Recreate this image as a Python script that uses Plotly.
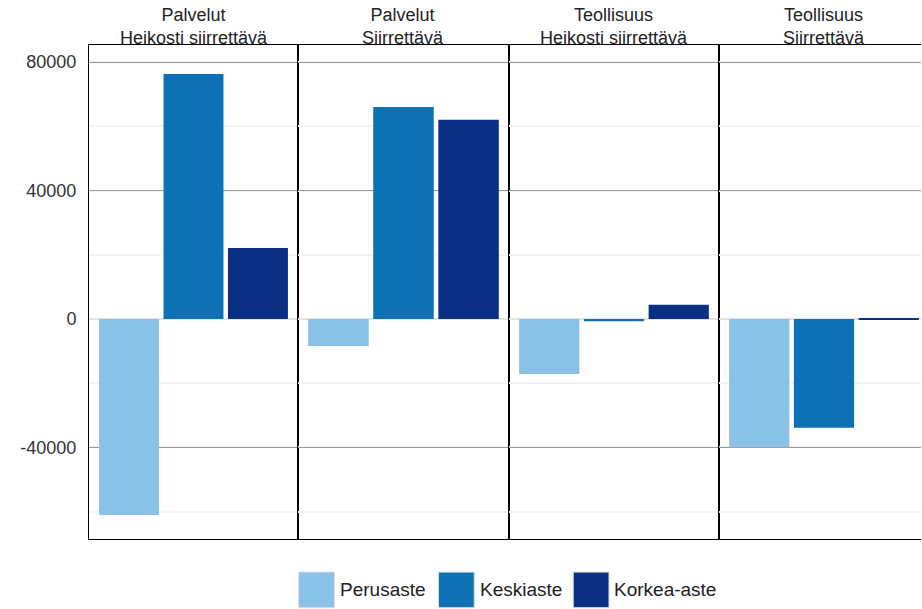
import plotly.graph_objects as go
from plotly.subplots import make_subplots

panels = ["Palvelut<br>Heikosti siirrettävä", "Palvelut<br>Siirrettävä",
          "Teollisuus<br>Heikosti siirrettävä", "Teollisuus<br>Siirrettävä"]
series_names = ["Perusaste", "Keskiaste", "Korkea-aste"]
perusaste = [-61000, -8400, -17100, -39900]
keskiaste = [76300, 66000, -700, -33900]
korkea_aste = [22100, 62000, 4400, -60]
colors = ["#89c2e6", "#0c72b4", "#0b3083"]
y_ticks = [80000, 40000, 0, -40000]
y_tick_text = ["80000", "40000", "0", "-40000"]

values = [perusaste, keskiaste, korkea_aste]
FONT = "Liberation Sans, Arial, sans-serif"

fig = make_subplots(rows=1, cols=4, shared_yaxes=True, horizontal_spacing=0,
                    subplot_titles=panels)

# panel edges in paper fractions (the last panel runs past the right edge)
edges = [0.0, 0.2512, 0.5048, 0.7572, 1.0]
full_w = 0.2524

for i in range(4):
    for s, name in enumerate(series_names):
        fig.add_trace(go.Bar(x=[panels[i]], y=[values[s][i]], name=name,
                             marker=dict(color=colors[s], line=dict(width=0)),
                             showlegend=False, hoverinfo="y"),
                      row=1, col=i + 1)
    dom = [edges[i], edges[i + 1]]
    xr = [-0.5, -0.5 + (dom[1] - dom[0]) / full_w] if i == 3 else [-0.5, 0.5]
    fig.update_xaxes(domain=dom, range=xr, showticklabels=False, showline=True,
                     linecolor="black", linewidth=1, mirror=True, showgrid=False,
                     ticks="", row=1, col=i + 1)
    fig.update_yaxes(range=[-68500, 85300], tickvals=y_ticks, ticktext=y_tick_text,
                     showline=True, linecolor="black", linewidth=1,
                     mirror=(i < 3),
                     showgrid=True, gridcolor="#9a9a9a", gridwidth=1,
                     zeroline=True, zerolinecolor="#e3e3e3", zerolinewidth=2,
                     minor=dict(dtick=20000, tick0=0, showgrid=True,
                                gridcolor="#f3f3f3", gridwidth=1.5, ticks=""),
                     ticks="", row=1, col=i + 1)

fig.update_yaxes(showticklabels=True, tickfont=dict(size=18, color="#333333", family=FONT),
                 ticklabelstandoff=8, row=1, col=1)

fig.update_annotations(font=dict(size=18, color="#222222", family=FONT), yshift=-5)
for i, ann in enumerate(fig.layout.annotations):
    ann.x = edges[i] + full_w / 2

# custom legend (large swatches as in the reference)
leg_x = [0.252, 0.420, 0.582]
for s, name in enumerate(series_names):
    x0 = leg_x[s]
    fig.add_shape(type="rect", xref="paper", yref="paper",
                  x0=x0, x1=x0 + 0.043, y0=-0.067, y1=-0.139,
                  fillcolor=colors[s], line=dict(color="#dddddd", width=1))
    fig.add_annotation(text=name, xref="paper", yref="paper", x=x0 + 0.047,
                       y=-0.103, xanchor="left", yanchor="middle", showarrow=False,
                       font=dict(size=19, color="#222222", family=FONT))

fig.update_layout(width=922, height=609, barmode="group", bargap=0.075,
                  bargroupgap=0.07, plot_bgcolor="white", paper_bgcolor="white",
                  margin=dict(l=89, r=1, t=45, b=70), showlegend=False,
                  font=dict(family=FONT))

fig.write_html("out.html", config={"displayModeBar": False},
               post_script="document.body.style.margin='0px';")
